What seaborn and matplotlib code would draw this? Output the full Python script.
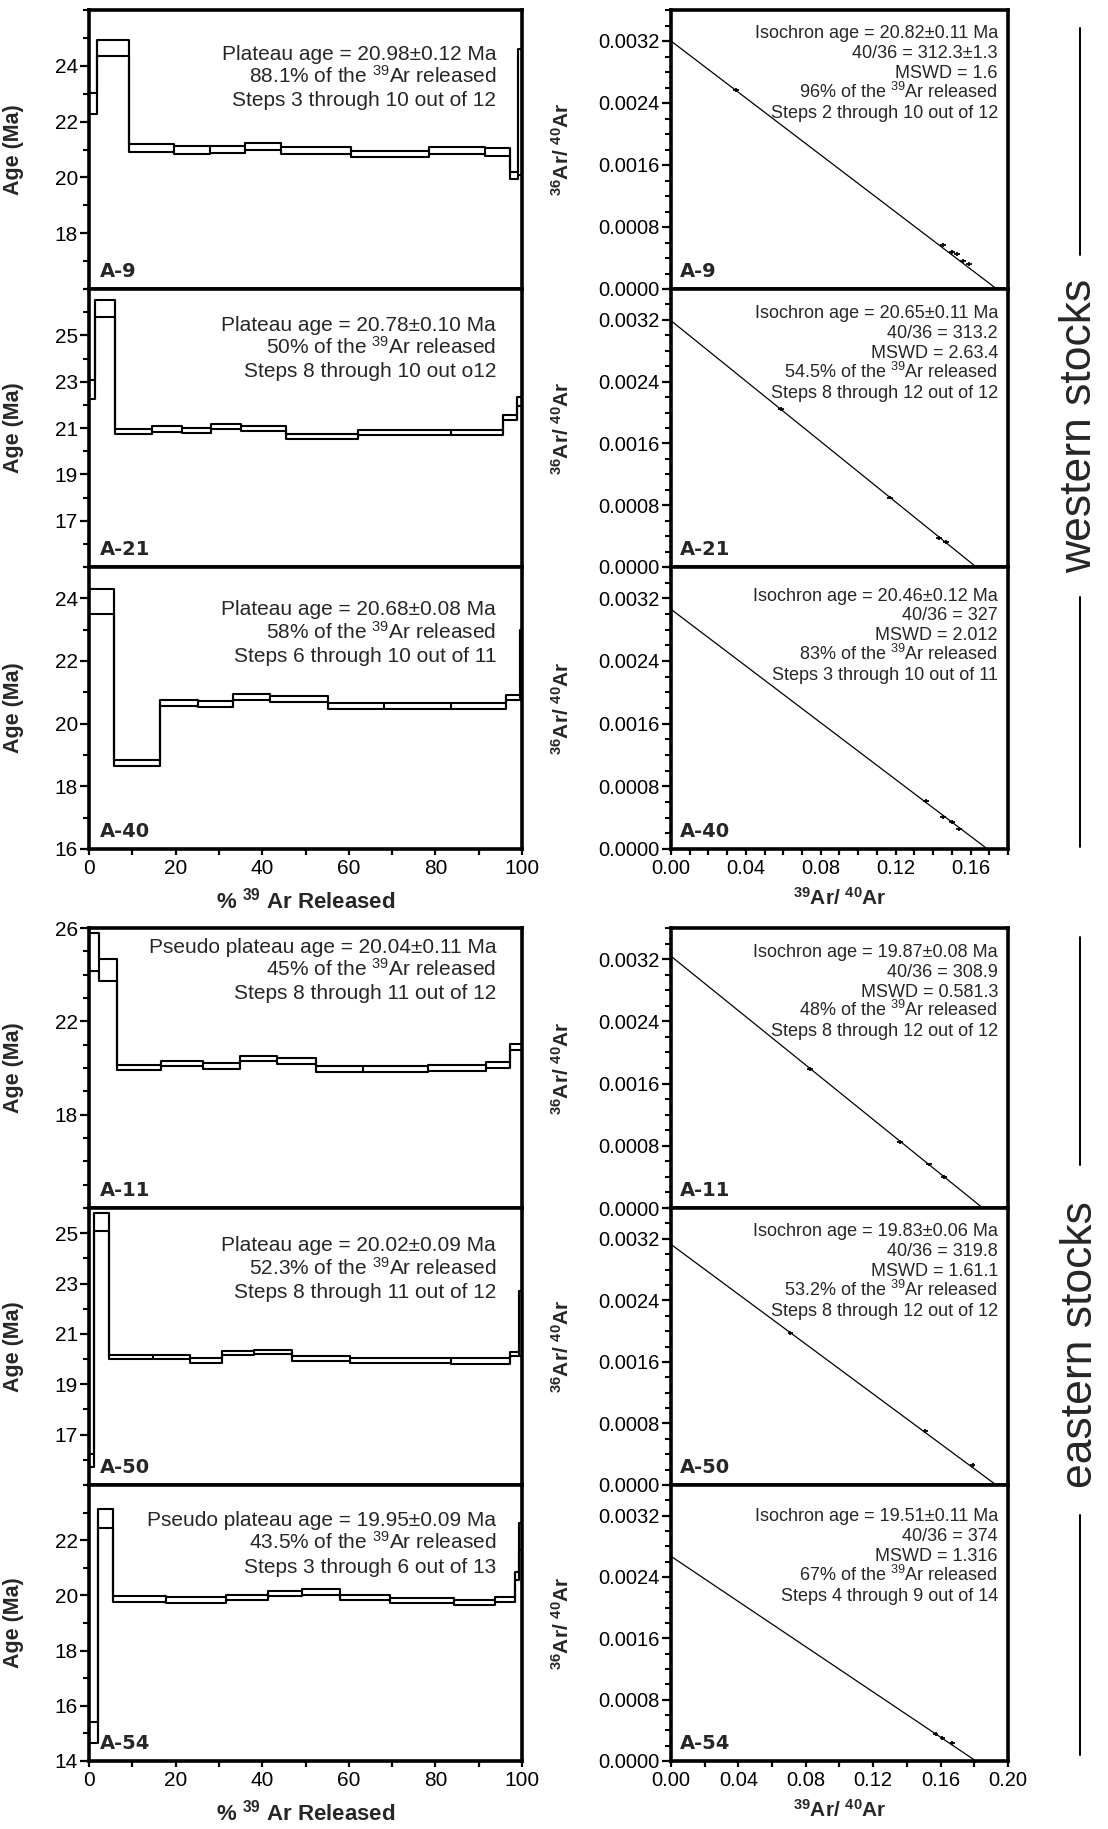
import matplotlib
matplotlib.use("Agg")
import matplotlib.pyplot as plt
from matplotlib.lines import Line2D
from matplotlib.ticker import MultipleLocator, FormatStrFormatter
import seaborn as sns

# ---- step-heating spectra: cumulative % 39Ar step edges and age bounds (Ma) ----
a9_edges = [0, 1.8, 9.2, 19.6, 28.0, 36.1, 44.4, 60.6, 78.5, 91.4, 97.2, 99.0, 100]
a9_lo = [22.28, 24.36, 20.90, 20.84, 20.89, 20.98, 20.83, 20.72, 20.83, 20.77, 19.94, 20.10]
a9_hi = [23.02, 24.91, 21.18, 21.12, 21.12, 21.25, 21.08, 20.96, 21.10, 21.07, 20.21, 24.60]

a21_edges = [0, 1.3, 6.0, 14.5, 21.5, 28.1, 35.1, 45.4, 62.1, 83.7, 95.6, 98.8, 100]
a21_lo = [22.27, 25.79, 20.76, 20.83, 20.78, 20.96, 20.88, 20.53, 20.71, 20.71, 21.33, 21.94]
a21_hi = [23.06, 26.54, 20.96, 21.07, 21.00, 21.19, 21.10, 20.74, 20.93, 20.93, 21.55, 22.34]

a40_edges = [0, 5.8, 16.3, 25.2, 33.2, 41.7, 55.2, 68.1, 83.6, 96.3, 99.6, 100]
a40_lo = [23.50, 18.65, 20.56, 20.52, 20.77, 20.68, 20.47, 20.47, 20.47, 20.74, 20.74]
a40_hi = [24.30, 18.84, 20.77, 20.72, 20.95, 20.87, 20.65, 20.65, 20.67, 20.93, 22.98]

a11_edges = [0, 2.2, 6.5, 16.6, 26.4, 34.9, 43.5, 52.5, 63.2, 78.2, 91.7, 97.2, 100]
a11_lo = [24.14, 23.71, 19.90, 20.07, 19.97, 20.29, 20.19, 19.83, 19.84, 19.89, 20.00, 20.76]
a11_hi = [25.79, 24.67, 20.14, 20.29, 20.21, 20.50, 20.41, 20.10, 20.07, 20.11, 20.27, 21.04]

a50_edges = [0, 1.2, 4.6, 14.7, 23.3, 30.7, 38.0, 46.8, 60.2, 83.7, 97.2, 99.2, 100]
a50_lo = [15.72, 25.09, 19.99, 20.01, 19.84, 20.17, 20.22, 19.91, 19.86, 19.82, 20.13, 20.13]
a50_hi = [16.22, 25.79, 20.17, 20.17, 20.04, 20.33, 20.38, 20.11, 20.05, 20.03, 20.29, 22.70]

a54_edges = [0, 2.0, 5.6, 17.8, 31.7, 41.4, 49.3, 57.9, 69.4, 84.2, 93.7, 98.4, 99.2, 100]
a54_lo = [14.64, 22.45, 19.77, 19.73, 19.83, 19.97, 20.00, 19.85, 19.71, 19.65, 19.76, 20.55, 21.64]
a54_hi = [15.40, 23.12, 19.99, 19.95, 20.03, 20.17, 20.23, 20.03, 19.91, 19.85, 19.95, 20.85, 22.64]

# ---- isochrons: y-intercept (36/40), x-intercept (39/40), and data points ----
iso_y0 = [0.00320, 0.00319, 0.00306, 0.003237, 0.003127, 0.00267]
iso_x0 = [0.174, 0.163, 0.169, 0.185, 0.193, 0.181]
a9_px = [0.0345, 0.1455, 0.150, 0.1525, 0.1560, 0.1590]
a9_py = [0.00257, 0.00057, 0.00048, 0.00045, 0.00036, 0.00032]
a21_px = [0.0585, 0.117, 0.1434, 0.147]
a21_py = [0.00205, 0.00090, 0.00037, 0.00032]
a40_px = [0.136, 0.1455, 0.150, 0.154]
a40_py = [0.00061, 0.00041, 0.00035, 0.00026]
a11_px = [0.0825, 0.136, 0.153, 0.162]
a11_py = [0.00179, 0.00085, 0.00056, 0.00040]
a50_px = [0.0708, 0.151, 0.179]
a50_py = [0.00198, 0.00070, 0.00026]
a54_px = [0.157, 0.161, 0.167]
a54_py = [0.00035, 0.00030, 0.00023]

names = ["A-9", "A-21", "A-40", "A-11", "A-50", "A-54"]
spectra = [(a9_edges, a9_lo, a9_hi), (a21_edges, a21_lo, a21_hi), (a40_edges, a40_lo, a40_hi),
           (a11_edges, a11_lo, a11_hi), (a50_edges, a50_lo, a50_hi), (a54_edges, a54_lo, a54_hi)]
points = [(a9_px, a9_py), (a21_px, a21_py), (a40_px, a40_py),
          (a11_px, a11_py), (a50_px, a50_py), (a54_px, a54_py)]
age_ylim = [(16, 26), (15, 27), (16, 25), (14, 26), (15, 26), (14, 24)]
age_ticks = [[18, 20, 22, 24], [17, 19, 21, 23, 25], [16, 18, 20, 22, 24],
             [18, 22, 26], [17, 19, 21, 23, 25], [14, 16, 18, 20, 22]]

plateau_txt = [
    ["Plateau age = 20.98\u00b10.12 Ma", "88.1% of the $^{39}$Ar released", "Steps 3 through 10 out of 12"],
    ["Plateau age = 20.78\u00b10.10 Ma", "50% of the $^{39}$Ar released", "Steps 8 through 10 out o12"],
    ["Plateau age = 20.68\u00b10.08 Ma", "58% of the $^{39}$Ar released", "Steps 6 through 10 out of 11"],
    ["Pseudo plateau age = 20.04\u00b10.11 Ma", "45% of the $^{39}$Ar released", "Steps 8 through 11 out of 12"],
    ["Plateau age = 20.02\u00b10.09 Ma", "52.3% of the $^{39}$Ar released", "Steps 8 through 11 out of 12"],
    ["Pseudo plateau age = 19.95\u00b10.09 Ma", "43.5% of the $^{39}$Ar released", "Steps 3 through 6 out of 13"],
]
iso_txt = [
    ["Isochron age = 20.82\u00b10.11 Ma", "40/36 = 312.3\u00b11.3", "MSWD = 1.6",
     "96% of the $^{39}$Ar released", "Steps 2 through 10 out of 12"],
    ["Isochron age = 20.65\u00b10.11 Ma", "40/36 = 313.2", "MSWD = 2.63.4",
     "54.5% of the $^{39}$Ar released", "Steps 8 through 12 out of 12"],
    ["Isochron age = 20.46\u00b10.12 Ma", "40/36 = 327", "MSWD = 2.012",
     "83% of the $^{39}$Ar released", "Steps 3 through 10 out of 11"],
    ["Isochron age = 19.87\u00b10.08 Ma", "40/36 = 308.9", "MSWD = 0.581.3",
     "48% of the $^{39}$Ar released", "Steps 8 through 12 out of 12"],
    ["Isochron age = 19.83\u00b10.06 Ma", "40/36 = 319.8", "MSWD = 1.61.1",
     "53.2% of the $^{39}$Ar released", "Steps 8 through 12 out of 12"],
    ["Isochron age = 19.51\u00b10.11 Ma", "40/36 = 374", "MSWD = 1.316",
     "67% of the $^{39}$Ar released", "Steps 4 through 9 out of 14"],
]
# first-baseline position of each text block (axes fraction)
plateau_base = [0.822, 0.85, 0.829, 0.912, 0.844, 0.852]
iso_base = [0.899, 0.894, 0.881, 0.897, 0.898, 0.868]

sns.set_style("ticks")
plt.rcParams["font.family"] = ["Liberation Sans", "DejaVu Sans"]
plt.rcParams["mathtext.fontset"] = "custom"
plt.rcParams["mathtext.rm"] = "Liberation Sans"
plt.rcParams["mathtext.bf"] = "Liberation Sans:bold"
plt.rcParams["mathtext.it"] = "Liberation Sans:italic"

W, H = 1108, 1829
fig = plt.figure(figsize=(W / 100, H / 100), dpi=100)


def px_axes(x0, y0, x1, y1):
    return fig.add_axes([x0 / W, 1 - y1 / H, (x1 - x0) / W, (y1 - y0) / H])


rows = [(10, 289), (289, 567), (567, 849), (928, 1208), (1208, 1485), (1485, 1761)]
LX0, LX1 = 89, 522
RX0, RX1 = 671, 1008


def style_axes(ax, labelsize):
    for s in ax.spines.values():
        s.set_linewidth(2.6)
        s.set_color("black")
    ax.tick_params(which="both", direction="out", colors="black", labelsize=labelsize)
    ax.tick_params(axis="y", which="major", length=6.5, width=1.6, pad=1.5)
    ax.tick_params(axis="y", which="minor", length=4.3, width=1.5)
    ax.tick_params(axis="x", which="both", length=4.3, width=1.6, pad=3)
    ax.set_facecolor("white")


def text_block(ax, lines, xr, ybase, size, step_pt):
    for j, line in enumerate(lines):
        ax.annotate(line, xy=(xr, ybase), xycoords="axes fraction",
                    xytext=(0, -j * step_pt), textcoords="offset points",
                    ha="right", va="baseline", fontsize=size)


for i in range(6):
    y0, y1 = rows[i]
    # ---- age spectrum: upper and lower stair lines joined by verticals ----
    ax = px_axes(LX0, y0, LX1, y1)
    edges, lo, hi = spectra[i]
    sns.lineplot(x=edges, y=hi + [hi[-1]], ax=ax, drawstyle="steps-post", estimator=None,
                 sort=False, color="black", linewidth=1.5)
    sns.lineplot(x=edges, y=lo + [lo[-1]], ax=ax, drawstyle="steps-post", estimator=None,
                 sort=False, color="black", linewidth=1.5)
    vlo = [lo[0]] + [min(lo[k - 1], lo[k]) for k in range(1, len(lo))] + [lo[-1]]
    vhi = [hi[0]] + [max(hi[k - 1], hi[k]) for k in range(1, len(hi))] + [hi[-1]]
    ax.vlines(edges, vlo, vhi, color="black", linewidth=1.5)
    ax.set_xlim(0, 100)
    ax.set_ylim(*age_ylim[i])
    ax.set_yticks(age_ticks[i])
    ax.yaxis.set_minor_locator(MultipleLocator(1))
    ax.xaxis.set_major_locator(MultipleLocator(20))
    ax.xaxis.set_minor_locator(MultipleLocator(10))
    style_axes(ax, 15)
    ax.set_ylabel("Age (Ma)", fontsize=15.5, fontweight="bold")
    ax.yaxis.set_label_coords(-0.15, 0.5)
    text_block(ax, plateau_txt[i], 0.94, plateau_base[i], 15, 16.8)
    ax.text(0.025, 0.03, names[i], transform=ax.transAxes, ha="left", va="bottom", fontsize=14,
            fontweight="bold", family="DejaVu Sans")
    if i in (2, 5):
        ax.set_xlabel(r"$\mathbf{\%\ ^{39}\ Ar\ Released}$", fontsize=16, labelpad=7)
    else:
        ax.tick_params(axis="x", labelbottom=False)

    # ---- isochron ----
    ax = px_axes(RX0, y0, RX1, y1)
    xmax = 0.18 if i < 3 else 0.20
    sns.lineplot(x=[0, iso_x0[i]], y=[iso_y0[i], 0], ax=ax, color="black", linewidth=0.9)
    px, py = points[i]
    ax.errorbar(px, py, xerr=0.0016, yerr=0.000025, fmt="none", ecolor="black", elinewidth=1.3)
    ax.set_xlim(0, xmax)
    ax.set_ylim(0, 0.0036)
    ax.set_yticks([0, 0.0008, 0.0016, 0.0024, 0.0032])
    ax.yaxis.set_major_formatter(FormatStrFormatter("%.4f"))
    ax.yaxis.set_minor_locator(MultipleLocator(0.0002))
    ax.xaxis.set_major_locator(MultipleLocator(0.04))
    ax.xaxis.set_major_formatter(FormatStrFormatter("%.2f"))
    ax.xaxis.set_minor_locator(MultipleLocator(0.01 if i < 3 else 0.02))
    style_axes(ax, 14.5)
    ax.set_ylabel(r"$\mathbf{^{36}Ar/\ ^{40}Ar}$", fontsize=15)
    ax.yaxis.set_label_coords(-0.29, 0.5)
    text_block(ax, iso_txt[i], 0.97, iso_base[i], 13, 14.3)
    ax.text(0.025, 0.03, names[i], transform=ax.transAxes, ha="left", va="bottom", fontsize=14,
            fontweight="bold", family="DejaVu Sans")
    if i in (2, 5):
        ax.set_xlabel(r"$\mathbf{^{39}Ar/\ ^{40}Ar}$", fontsize=15, labelpad=6)
    else:
        ax.tick_params(axis="x", labelbottom=False)

# ---- group labels on the right ----
TX = 1080
fig.text(TX / W, 1 - 426 / H, "western stocks", rotation=90, fontsize=32, ha="center", va="center")
fig.text(TX / W, 1 - 1345 / H, "eastern stocks", rotation=90, fontsize=32, ha="center", va="center")
for ya, yb in [(28, 255), (597, 847), (937, 1165), (1515, 1755)]:
    fig.add_artist(Line2D([TX / W, TX / W], [1 - ya / H, 1 - yb / H], color="black", linewidth=1.4))

fig.savefig("out.png", dpi=100, facecolor="white")
